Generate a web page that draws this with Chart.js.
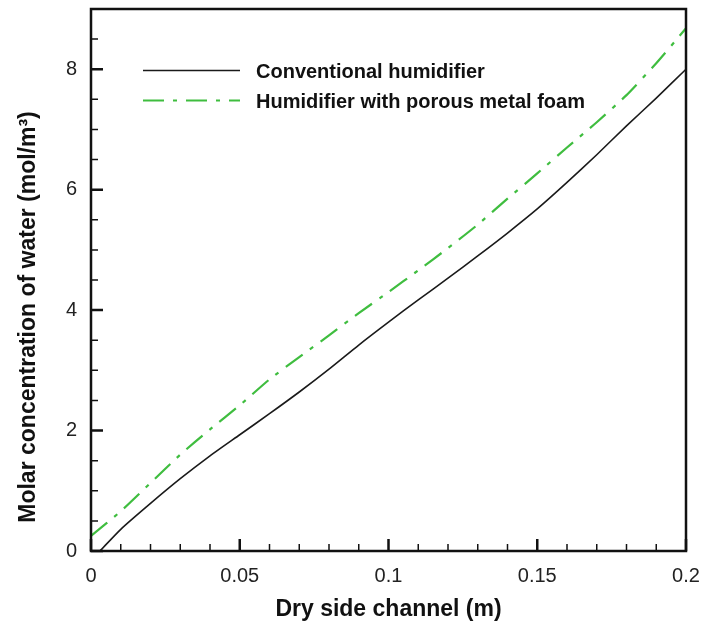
<!DOCTYPE html>
<html>
<head>
<meta charset="utf-8">
<script src="https://cdn.jsdelivr.net/npm/chart.js@4.4.1/dist/chart.umd.min.js"></script>
<style>
  html, body { margin: 0; padding: 0; background: #fff; }
</style>
</head>
<body>
<canvas id="humidChart" width="703" height="633"></canvas>
<script>
// values
const convX = [0.003, 0.01, 0.02, 0.03, 0.04, 0.05, 0.06, 0.07, 0.08, 0.09, 0.1, 0.11, 0.12, 0.13, 0.14, 0.15, 0.16, 0.17, 0.18, 0.19, 0.2];
const conventional = [0, 0.36, 0.79, 1.2, 1.58, 1.93, 2.28, 2.64, 3.02, 3.42, 3.8, 4.17, 4.53, 4.9, 5.28, 5.68, 6.12, 6.58, 7.06, 7.52, 8.0];
const foamX = [0, 0.01, 0.02, 0.03, 0.04, 0.05, 0.06, 0.07, 0.08, 0.09, 0.1, 0.11, 0.12, 0.13, 0.14, 0.15, 0.16, 0.17, 0.18, 0.19, 0.2];
const foam = [0.25, 0.66, 1.13, 1.6, 2.02, 2.42, 2.85, 3.22, 3.58, 3.95, 4.3, 4.66, 5.03, 5.42, 5.85, 6.27, 6.7, 7.12, 7.57, 8.1, 8.68];
const seriesNames = ["Conventional humidifier", "Humidifier with porous metal foam"];
const xTicks = [0, 0.05, 0.1, 0.15, 0.2];
const yTicks = [0, 2, 4, 6, 8];
const xTitle = "Dry side channel (m)";
const yTitle = "Molar concentration of water (mol/m\u00B3)";

const FONT = "'Liberation Sans', Arial, Helvetica, sans-serif";

// minor tick positions
const xMinor = [];
for (let i = 1; i < 20; i++) if (i % 5 !== 0) xMinor.push(i * 0.01);
const yMinor = [];
for (let i = 1; i < 18; i++) if (i % 4 !== 0) yMinor.push(i * 0.5);

// frame, inward ticks, legend and y title
const framePlugin = {
    id: "frame",
    afterDraw(chart) {
        const ctx = chart.ctx;
        const a = chart.chartArea;
        const xs = chart.scales.x, ys = chart.scales.y;
        ctx.save();
        ctx.strokeStyle = "#111";
        ctx.lineCap = "butt";

        // minor ticks
        ctx.lineWidth = 1.5;
        ctx.beginPath();
        xMinor.forEach(v => {
            const px = xs.getPixelForValue(v);
            ctx.moveTo(px, a.bottom); ctx.lineTo(px, a.bottom - 7);
        });
        yMinor.forEach(v => {
            const py = ys.getPixelForValue(v);
            ctx.moveTo(a.left, py); ctx.lineTo(a.left + 7, py);
        });
        ctx.stroke();

        // major ticks
        ctx.lineWidth = 2.5;
        ctx.beginPath();
        xTicks.forEach(v => {
            const px = xs.getPixelForValue(v);
            ctx.moveTo(px, a.bottom); ctx.lineTo(px, a.bottom - 12);
        });
        yTicks.forEach(v => {
            const py = ys.getPixelForValue(v);
            ctx.moveTo(a.left, py); ctx.lineTo(a.left + 12, py);
        });
        ctx.stroke();

        // frame
        ctx.lineWidth = 2.5;
        ctx.strokeRect(a.left, a.top, a.right - a.left, a.bottom - a.top);

        // legend in the upper left of the plot
        const rows = [70.5, 100.5];
        chart.data.datasets.forEach((ds, i) => {
            ctx.beginPath();
            ctx.strokeStyle = ds.borderColor;
            ctx.lineWidth = ds.borderWidth;
            ctx.setLineDash(ds.borderDash || []);
            ctx.moveTo(143, rows[i]);
            ctx.lineTo(240, rows[i]);
            ctx.stroke();
            ctx.setLineDash([]);
            ctx.fillStyle = "#111";
            ctx.font = "bold 20px " + FONT;
            ctx.textAlign = "left";
            ctx.textBaseline = "alphabetic";
            ctx.fillText(ds.label, 256, rows[i] + 7);
        });

        // rotated y title
        ctx.translate(29, 317);
        ctx.rotate(-Math.PI / 2);
        ctx.fillStyle = "#111";
        ctx.font = "bold 23px " + FONT;
        ctx.textAlign = "center";
        ctx.textBaseline = "middle";
        ctx.fillText(yTitle, 0, 0);
        ctx.restore();
    }
};

const ctx = document.getElementById("humidChart").getContext("2d");
const humidChart = new Chart(ctx, {
    type: "line",
    data: {
        datasets: [{
            label: seriesNames[0],
            data: convX.map((x, i) => ({ x: x, y: conventional[i] })),
            borderColor: "#1a1a1a",
            borderWidth: 1.6,
            pointRadius: 0,
            tension: 0.2,
            fill: false,
        }, {
            label: seriesNames[1],
            data: foamX.map((x, i) => ({ x: x, y: foam[i] })),
            borderColor: "#3fbd3f",
            borderWidth: 2.2,
            borderDash: [21, 9, 4, 9],
            pointRadius: 0,
            tension: 0.2,
            fill: false,
        }],
    },
    options: {
        responsive: false,
        animation: false,
        layout: { padding: { left: 0, top: 9, right: 17, bottom: 0 } },
        plugins: {
            legend: { display: false },
            tooltip: { enabled: false },
        },
        scales: {
            x: {
                type: "linear",
                min: 0,
                max: 0.2,
                afterBuildTicks: s => { s.ticks = xTicks.map(v => ({ value: v })); },
                afterFit: s => { s.height = 82; s.paddingLeft = 0; s.paddingRight = 0; },
                grid: { display: false, drawTicks: false },
                border: { display: false },
                ticks: {
                    padding: 13,
                    color: "#222",
                    font: { family: FONT, size: 20 },
                    maxRotation: 0,
                    callback: v => String(v),
                },
                title: {
                    display: true,
                    text: xTitle,
                    color: "#111",
                    font: { family: FONT, size: 23, weight: "bold" },
                    padding: { top: 0, bottom: 10 },
                },
            },
            y: {
                type: "linear",
                min: 0,
                max: 9,
                afterBuildTicks: s => { s.ticks = yTicks.map(v => ({ value: v })); },
                afterFit: s => { s.width = 91; s.paddingTop = 0; s.paddingBottom = 0; },
                grid: { display: false, drawTicks: false },
                border: { display: false },
                ticks: {
                    padding: 14,
                    color: "#222",
                    font: { family: FONT, size: 20 },
                },
                title: { display: false },
            },
        },
    },
    plugins: [framePlugin],
});
</script>
</body>
</html>
